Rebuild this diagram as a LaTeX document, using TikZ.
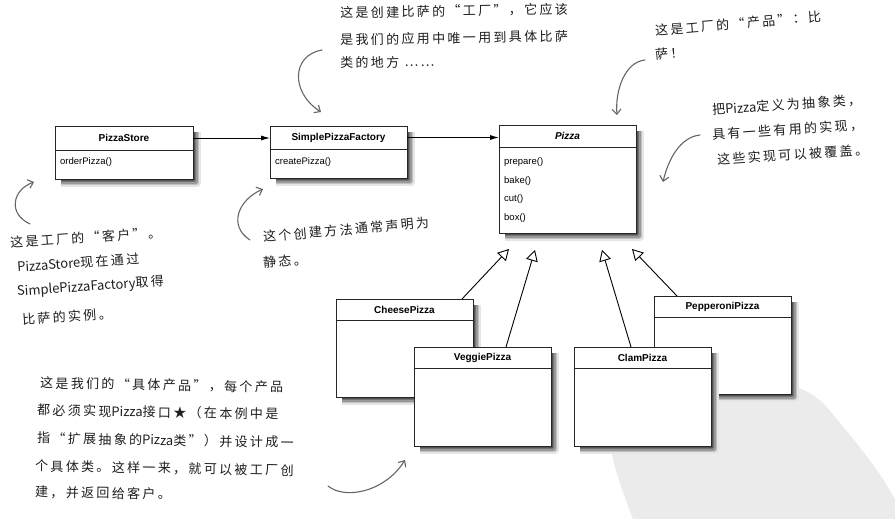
\documentclass[tikz,border=0pt]{standalone}
\usepackage{fontspec}
\setmainfont{Liberation Sans}
\newfontfamily\hand[LetterSpace=18]{Noto Sans CJK SC}
\newfontfamily\handl{Noto Sans CJK SC}
\usetikzlibrary{arrows.meta}

\tikzset{
  classfill/.style={fill=white, draw=none, inner sep=0pt, outer sep=0pt},
  classline/.style={draw=black!85, line width=0.8pt},
  divider/.style={draw=black!85, line width=0.7pt},
  classtitle/.style={font=\fontsize{10}{12}\selectfont\bfseries, inner sep=0pt},
  method/.style={font=\fontsize{9.5}{11}\selectfont, inner sep=0pt, anchor=base west},
  assoc/.style={line width=0.9pt, -{Latex[length=9pt,width=5pt]}},
  inherit/.style={line width=0.9pt, -{Triangle[open,length=11pt,width=12pt,fill=white]}},
  note/.style={font=\hand\fontsize{13}{15}\selectfont, text=black!88, inner sep=0pt, anchor=west},
  pen/.style={draw=black!60, line width=1.1pt, line cap=round,
    -{Straight Barb[length=5pt,width=9pt]}},
}

% soft shadow stroke along the right and bottom edges of a class:
% node, half width of the stroke, grey
\newcommand\shadowstroke[3]{%
  \draw[black!#3, line width=2*#2pt, line join=round]
    ([xshift=#2pt,yshift=-6pt]#1.north east) -- ([xshift=#2pt,yshift=-#2pt]#1.south east)
    -- ([xshift=6pt,yshift=-#2pt]#1.south west);
}

% one UML class: name, width, height, centre x, centre y, header height, title
\newcommand\umlclass[7]{%
  \node[classfill, minimum width=#2pt, minimum height=#3pt] (#1) at (#4,#5) {};
  \shadowstroke{#1}{4}{10}
  \shadowstroke{#1}{3.2}{24}
  \shadowstroke{#1}{2.4}{40}
  \shadowstroke{#1}{1.6}{55}
  \shadowstroke{#1}{0.8}{68}
  \draw[classline] (#1.north west) rectangle (#1.south east);
  \draw[divider] ([yshift=-#6pt]#1.north west) -- ([yshift=-#6pt]#1.north east);
  \node[classtitle] (#1-name) at ([yshift=-#6pt/2]#1.north) {#7};
}

\begin{document}
\begin{tikzpicture}[x=1pt,y=-1pt]
\useasboundingbox (0,0) rectangle (895,519);
\fill[white] (0,0) rectangle (895,519);

% grey stamp in the lower right corner
\fill[black!8] (633,519) .. controls (618,480) and (604,440) .. (610,415)
  .. controls (615,395) and (650,382) .. (710,378)
  .. controls (760,376) and (800,380) .. (825,405)
  .. controls (850,435) and (880,470) .. (895,500) -- (895,519) -- cycle;

% classes
\umlclass{store}{138}{53}{124}{152.5}{24}{PizzaStore}
\node[method] (store-m1) at ([xshift=5pt,yshift=-38.5pt]store.north west) {orderPizza()};

\umlclass{factory}{137}{52}{338.5}{152}{23}{SimplePizzaFactory}
\node[method] (factory-m1) at ([xshift=5pt,yshift=-38.5pt]factory.north west) {createPizza()};

\umlclass{pizza}{137}{108}{567.5}{179}{22}{\itshape Pizza}
\node[method] (pizza-m1) at ([xshift=5pt,yshift=-39.5pt]pizza.north west) {prepare()};
\node[method] (pizza-m2) at ([xshift=5pt,yshift=-58pt]pizza.north west) {bake()};
\node[method] (pizza-m3) at ([xshift=5pt,yshift=-76.5pt]pizza.north west) {cut()};
\node[method] (pizza-m4) at ([xshift=5pt,yshift=-95pt]pizza.north west) {box()};

\draw[assoc] (store-name -| store.east) -- (store-name -| factory.west);
\draw[assoc] (factory-name -| factory.east) -- (factory-name -| pizza.west);

% concrete products
\umlclass{cheese}{137}{98}{404.5}{348}{21}{CheesePizza}
\umlclass{veggie}{137}{99}{482.5}{396.5}{21}{VeggiePizza}
\umlclass{pepperoni}{137}{98}{722.5}{345}{21}{PepperoniPizza}
\umlclass{clam}{137}{99}{642.5}{396.5}{21}{ClamPizza}

\coordinate (tip1) at (509,249);
\coordinate (tip2) at (535,250);
\coordinate (tip3) at (602,250);
\coordinate (tip4) at (632,249);
\coordinate (cheese-top) at (462,299);
\coordinate (veggie-top) at (506,347);
\coordinate (clam-top) at (631,347);
\coordinate (pepperoni-top) at (677,296);
\draw[inherit] (cheese-top) -- (tip1);
\draw[inherit] (veggie-top) -- (tip2);
\draw[inherit] (clam-top) -- (tip3);
\draw[inherit] (pepperoni-top) -- (tip4);

% handwritten notes
\node[note, rotate=1] (n1a) at (340,13) {这是创建比萨的“工厂”，它应该};
\node[note, rotate=1] (n1b) at (340,40) {是我们的应用中唯一用到具体比萨};
\node[note, rotate=1] (n1c) at (340,63) {类的地方 ……};

\node[note, rotate=5] (n2a) at (655,31) {这是工厂的“产品”：比};
\node[note, rotate=5] (n2b) at (655,55) {萨！};

\node[note, rotate=4] (n3a) at (712,110) {把{\handl Pizza}定义为抽象类，};
\node[note, rotate=4] (n3b) at (712,135) {具有一些有用的实现，};
\node[note, rotate=4] (n3c) at (717,160) {这些实现可以被覆盖。};

\node[note, rotate=4] (n4a) at (10,243) {这是工厂的“客户”。};
\node[note, rotate=4] (n4b) at (17,267) {{\handl PizzaStore}现在通过};
\node[note, rotate=4] (n4c) at (17,292) {{\handl SimplePizzaFactory}取得};
\node[note, rotate=4] (n4d) at (22,320) {比萨的实例。};

\node[note, rotate=5] (n5a) at (263,237) {这个创建方法通常声明为};
\node[note, rotate=5] (n5b) at (263,263) {静态。};

\node[note, rotate=-1] (n6a) at (40,383) {这是我们的“具体产品”，每个产品};
\node[note, rotate=-1] (n6b) at (37,410) {都必须实现{\handl Pizza}接口★（在本例中是};
\node[note, rotate=-1] (n6c) at (37,438) {指“扩展抽象的{\handl Pizza}类”）并设计成一};
\node[note, rotate=-1] (n6d) at (35,466) {个具体类。这样一来，就可以被工厂创};
\node[note, rotate=-1] (n6e) at (35,492) {建，并返回给客户。};

% pen strokes from the notes to the classes
\coordinate (p1s) at (322,50);  \coordinate (p1e) at (321,112);
\coordinate (p2s) at (645,60);  \coordinate (p2e) at (617,115);
\coordinate (p3s) at (700,135); \coordinate (p3e) at (663,182);
\coordinate (p4s) at (30,224);  \coordinate (p4e) at (34,182);
\coordinate (p5s) at (250,240); \coordinate (p5e) at (263,189);
\coordinate (p6s) at (328,486); \coordinate (p6e) at (405,460);
\draw[pen] (p1s) .. controls (292,55) and (290,92) .. (p1e);
\draw[pen] (p2s) .. controls (625,62) and (615,90) .. (p2e);
\draw[pen] (p3s) .. controls (680,137) and (668,160) .. (p3e);
\draw[pen] (p4s) .. controls (8,214) and (12,190) .. (p4e);
\draw[pen] (p5s) .. controls (228,226) and (238,200) .. (p5e);
\draw[pen] (p6s) .. controls (345,500) and (385,492) .. (p6e);
\end{tikzpicture}
\end{document}
